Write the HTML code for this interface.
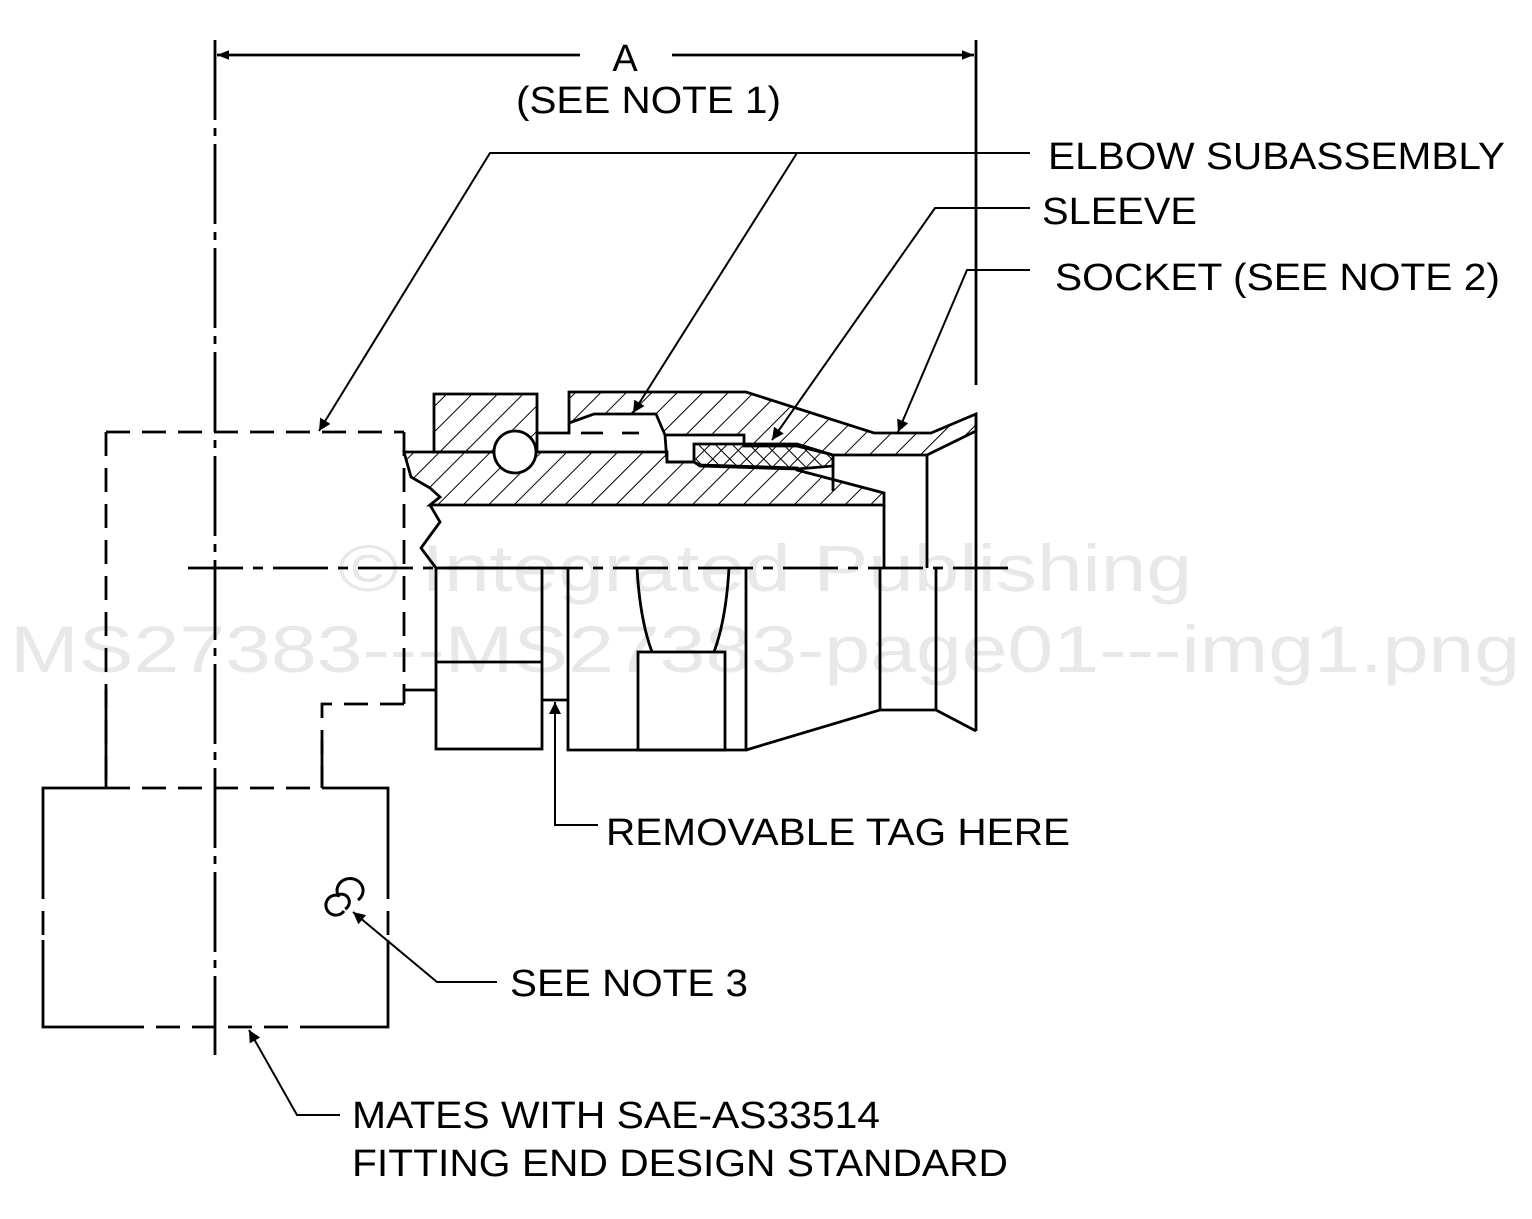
<!DOCTYPE html>
<html><head><meta charset="utf-8"><style>
html,body{margin:0;padding:0;background:#fff;}
svg{display:block;}
text{font-family:"Liberation Sans",Arial,sans-serif;}
</style></head><body>
<svg width="1532" height="1219" viewBox="0 0 1532 1219" xmlns="http://www.w3.org/2000/svg">
<defs>
<pattern id="h" patternUnits="userSpaceOnUse" width="18" height="18" patternTransform="rotate(45)">
<line x1="0" y1="0" x2="0" y2="18" stroke="#000" stroke-width="2"/>
</pattern>
<pattern id="x" patternUnits="userSpaceOnUse" width="12" height="12" patternTransform="rotate(45)">
<line x1="0" y1="0" x2="0" y2="12" stroke="#000" stroke-width="2"/>
<line x1="0" y1="0" x2="12" y2="0" stroke="#000" stroke-width="2"/>
</pattern>
<marker id="ar" viewBox="0 0 10 10" refX="10" refY="5" markerWidth="16" markerHeight="12" markerUnits="userSpaceOnUse" orient="auto">
<path d="M0,0 L10,5 L0,10 z" fill="#000"/>
</marker>
<marker id="ar2" viewBox="0 0 10 10" refX="10" refY="5" markerWidth="26" markerHeight="12" markerUnits="userSpaceOnUse" orient="auto">
<path d="M0,1 L10,5 L0,9 z" fill="#000"/>
</marker>
</defs>

<!-- watermark -->
<g fill="#e8e8e8" font-size="66">
<text x="338" y="591" textLength="854" lengthAdjust="spacingAndGlyphs">© Integrated Publishing</text>
<text x="10" y="672" textLength="1510" lengthAdjust="spacingAndGlyphs">MS27383---MS27383-page01---img1.png</text>
</g>

<g stroke="#000" stroke-width="2.8" fill="none">
<!-- dimension -->
<line x1="215" y1="40" x2="215" y2="1055" stroke-dasharray="80,8,8,8"/>
<line x1="976" y1="40" x2="976" y2="385"/>
<line x1="580" y1="55" x2="217" y2="55" marker-end="url(#ar2)"/>
<line x1="672" y1="55" x2="974" y2="55" marker-end="url(#ar2)"/>
<!-- centerline -->
<line x1="188" y1="568" x2="1015" y2="568" stroke-dasharray="55,10,10,10"/>

<polygon points="434,394 537,394 537,452 434,452" fill="url(#h)"/>
<polygon points="569,392 746,392 874,433 931,433 976,414 976,431 927,455 833,455 797,446 744,446 744,435 665,435 656,414 594,414 569,423" fill="url(#h)"/>
<polyline points="537,433 569,433 569,423"/>
<polygon points="404,452 667,452 667,462 694,462 700,465 797,468 797,470 884,493 884,505 430,505 440,497 430,488 411,477" fill="url(#h)"/>
<polyline points="665,435 667,462 694,462"/>
<polyline points="833,455 833,491"/>
<polygon points="694,444 797,444 833,455 833,466 797,469 700,466 694,462" fill="url(#x)"/>
<line x1="581" y1="433" x2="603" y2="433"/>
<line x1="622" y1="433" x2="639" y2="433"/>
<circle cx="515" cy="452" r="21" fill="#fff"/>
<polyline points="430,505 440,522 421,548 436,568"/>
<line x1="884" y1="505" x2="884" y2="568"/>
<line x1="927" y1="455" x2="927" y2="568"/>
<line x1="976" y1="414" x2="976" y2="731"/>

<rect x="436" y="568" width="106" height="181"/>
<line x1="436" y1="662" x2="542" y2="662"/>
<line x1="404" y1="690" x2="436" y2="690"/>
<line x1="542" y1="700" x2="568" y2="700"/>
<polyline points="568,568 568,750 746,750 746,568"/>
<path d="M637,568 Q640,620 652,652"/>
<path d="M729,568 Q726,620 714,652"/>
<rect x="638" y="652" width="87" height="98"/>
<polyline points="746,750 880,710 880,568"/>
<line x1="880" y1="710" x2="936" y2="710"/>
<line x1="936" y1="568" x2="936" y2="710"/>
<line x1="936" y1="710" x2="976" y2="731"/>

<g stroke-dasharray="24,12">
<line x1="106" y1="432" x2="404" y2="432"/>
<line x1="404" y1="432" x2="404" y2="704"/>
<line x1="106" y1="432" x2="106" y2="788"/>
<polyline points="404,704 322,704 322,788"/>
<line x1="106" y1="788" x2="322" y2="788"/>
<line x1="43" y1="875" x2="43" y2="940"/>
<line x1="388" y1="875" x2="388" y2="940"/>
<line x1="120" y1="1027" x2="313" y2="1027"/>
</g>
<line x1="106" y1="690" x2="106" y2="788"/>
<line x1="322" y1="740" x2="322" y2="788"/>
<polyline points="106,788 43,788 43,875"/>
<polyline points="322,788 388,788 388,875"/>
<polyline points="43,940 43,1027 120,1027"/>
<polyline points="388,940 388,1027 313,1027"/>

<!-- symbol -->
<path d="M340,896 A10,10 0 1,0 344,911" stroke-width="3"/>
<path d="M345,909 A4,4 0 0,0 338,895 A13,12 0 1,1 358,900" stroke-width="3"/>

<g stroke-width="2">
<polyline points="1030,153 490,153 319,431" marker-end="url(#ar)"/>
<polyline points="797,153 633,413" marker-end="url(#ar)"/>
<polyline points="1030,208 935,208 772,440" marker-end="url(#ar)"/>
<polyline points="1030,270 967,270 898,432" marker-end="url(#ar)"/>
<polyline points="598,825 555,825 555,702" marker-end="url(#ar)"/>
<path d="M497,982 L437,982 L353,912" marker-end="url(#ar)"/>
<polyline points="340,1115 297,1115 249,1030" marker-end="url(#ar)"/>
</g>
</g>

<g fill="#000" font-size="38">
<text x="625" y="71" text-anchor="middle">A</text>
<text x="516" y="113" textLength="265" lengthAdjust="spacingAndGlyphs">(SEE NOTE 1)</text>
<text x="1048" y="169" textLength="457" lengthAdjust="spacingAndGlyphs">ELBOW SUBASSEMBLY</text>
<text x="1042" y="224" textLength="155" lengthAdjust="spacingAndGlyphs">SLEEVE</text>
<text x="1055" y="290" textLength="445" lengthAdjust="spacingAndGlyphs">SOCKET (SEE NOTE 2)</text>
<text x="606" y="845" textLength="464" lengthAdjust="spacingAndGlyphs">REMOVABLE TAG HERE</text>
<text x="510" y="996" textLength="238" lengthAdjust="spacingAndGlyphs">SEE NOTE 3</text>
<text x="352" y="1128" textLength="528" lengthAdjust="spacingAndGlyphs">MATES WITH SAE-AS33514</text>
<text x="352" y="1176" textLength="656" lengthAdjust="spacingAndGlyphs">FITTING END DESIGN STANDARD</text>
</g>
</svg>
</body></html>
